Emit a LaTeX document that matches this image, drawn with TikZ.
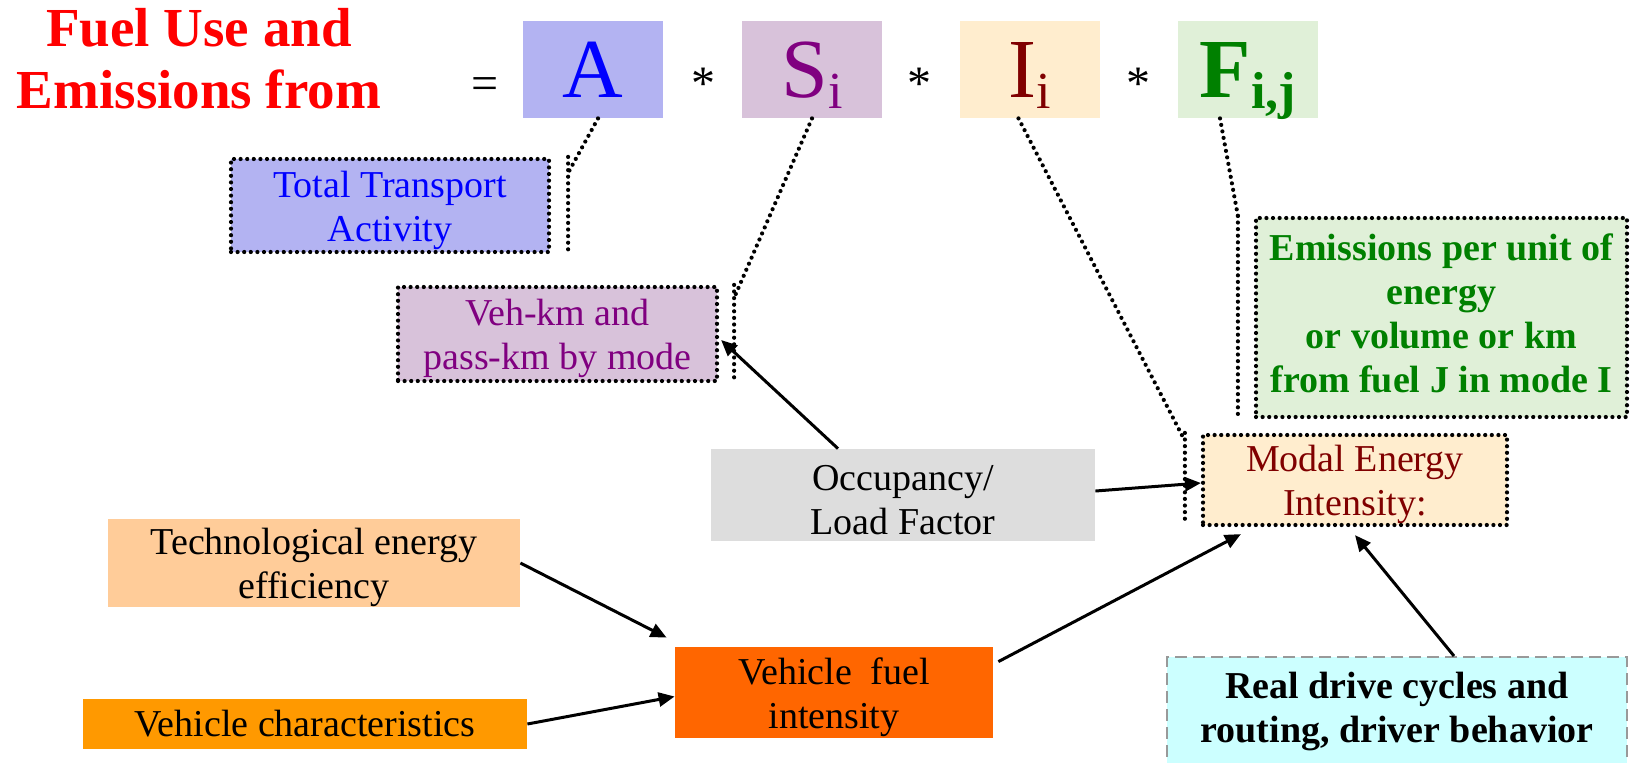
\documentclass[tikz,border=0pt]{standalone}
\usepackage{fontspec}
\setmainfont{Liberation Serif}
\usetikzlibrary{arrows.meta}
\definecolor{Abox}{HTML}{B3B3F2}
\definecolor{Sbox}{HTML}{D8C2DA}
\definecolor{Ibox}{HTML}{FFEDCE}
\definecolor{Fbox}{HTML}{E0F0D8}
\definecolor{Occbox}{HTML}{DDDDDD}
\definecolor{Techbox}{HTML}{FFCC99}
\definecolor{Charbox}{HTML}{FF9900}
\definecolor{Fuelbox}{HTML}{FF6600}
\definecolor{Realbox}{HTML}{CCFFFF}
\definecolor{Stext}{HTML}{800080}
\definecolor{Itext}{HTML}{800000}
\definecolor{Ftext}{HTML}{008000}
\newcommand{\bodyfont}{\fontsize{19pt}{22pt}\selectfont}
\newcommand{\idx}[1]{\raisebox{-5.5pt}{\fontsize{26pt}{26pt}\selectfont #1}}
\newcommand{\tall}{\rule{0pt}{18pt}}
\newcommand{\deep}{\rule[-4pt]{0pt}{4pt}}
\tikzset{
  dotline/.style={line width=2.1pt, dash pattern=on 0pt off 3.3pt, line cap=round},
  box/.style={inner sep=0pt, align=center, font=\bodyfont},
  dotbox/.style={box, draw, dotline},
  letter/.style={minimum width=70pt, minimum height=48.5pt, inner sep=0pt,
    text height=28pt, text depth=0pt, font=\fontsize{42pt}{42pt}\selectfont},
  op/.style={anchor=base, inner sep=0pt, font=\fontsize{24pt}{24pt}\selectfont},
  link/.style={-{Triangle[length=8pt,width=7pt]}, line width=1.5pt}
}
\begin{document}
\begin{tikzpicture}[x=0.5pt, y=-0.5pt]
\useasboundingbox (0,0) rectangle (1632,762);
\node[align=center, inner sep=0pt, text=red, font=\fontsize{27.5pt}{31pt}\selectfont\bfseries] (title) at (199,59) {Fuel Use and\\Emissions from};
\node[op] (eq) at (485,99) {=};
\node[op] (star1) at (703,99) {*};
\node[letter, fill=Abox, text=blue] (A) at (593,69.5) {A};
\node[op] (star2) at (919,99) {*};
\node[letter, fill=Sbox, text=Stext] (S) at (812,69.5) {S\idx{i}};
\node[op] (star3) at (1138,99) {*};
\node[letter, fill=Ibox, text=Itext] (I) at (1029.5,69.5) {I\idx{i}};
\node[letter, fill=Fbox, text=Ftext, font=\fontsize{42pt}{42pt}\selectfont\bfseries] (F) at (1248,69.5) {F\idx{i,j}};

\node[dotbox, fill=Abox, text=blue, minimum width=159pt, minimum height=46.5pt] (activity) at (390,205.5) {\tall Total Transport\\Activity};
\node[dotbox, fill=Sbox, text=Stext, minimum width=159.5pt, minimum height=47pt] (vehkm) at (557.5,334) {\tall Veh-km and\\pass-km by mode};
\node[box, fill=Occbox, minimum width=192pt, minimum height=46pt] (occupancy) at (903,495) {\tall Occupancy/\\Load Factor};
\node[dotbox, fill=Ibox, text=Itext, minimum width=152pt, minimum height=45pt] (modal) at (1355,480) {\tall Modal Energy\\Intensity:};
\node[dotbox, fill=Fbox, text=Ftext, font=\bodyfont\bfseries, minimum width=185.5pt, minimum height=99.5pt] (emission) at (1441.5,317.5) {Emissions per unit of\\energy\\or volume or km\\from fuel J in mode I\deep};
\node[box, fill=Techbox, minimum width=206pt, minimum height=43pt] (tech) at (314,563) {\tall Technological energy\\efficiency};
\node[box, fill=Charbox, minimum width=222pt, minimum height=25pt] (vchar) at (305,724) {Vehicle characteristics};
\node[box, fill=Fuelbox, minimum width=159pt, minimum height=45.5pt] (vfuel) at (834,692.5) {\tall Vehicle\ \ fuel\\intensity};
\node[box, fill=Realbox, draw=gray!80, line width=1pt, dash pattern=on 6pt off 3pt, font=\bodyfont\bfseries, minimum width=230pt, minimum height=54pt] (drive) at (1397,711) {Real drive cycles and\\routing, driver behavior\deep};

\draw[dotline] ([xshift=2.5pt]A.south) -- ([shift={(8.5pt,-8pt)}]activity.north east);
\draw[dotline] ([xshift=8.5pt]activity.north east) -- ([xshift=8.5pt]activity.south east);
\draw[dotline] (S.south) -- ([shift={(7.5pt,-6.5pt)}]vehkm.north east);
\draw[dotline] ([xshift=7.5pt]vehkm.north east) -- ([xshift=7.5pt]vehkm.south east);
\draw[dotline] ([xshift=-5.5pt]I.south) -- ([shift={(-8pt,-4pt)}]modal.north west);
\draw[dotline] ([xshift=-8pt]modal.north west) -- ([shift={(-8pt,3.5pt)}]modal.south west);
\draw[dotline] ([xshift=-14pt]F.south) -- ([xshift=-8pt]emission.north west);
\draw[dotline] ([xshift=-8pt]emission.north west) -- ([xshift=-8pt]emission.south west);

\draw[link] ([xshift=-32.5pt]occupancy.north) -- ([shift={(1pt,-3pt)}]vehkm.east);
\draw[link] ([yshift=2pt]occupancy.east) -- ([yshift=-1.5pt]modal.west);
\draw[link] (tech.east) -- ([shift={(-4pt,4.5pt)}]vfuel.north west);
\draw[link] (vchar.east) -- ([yshift=-2pt]vfuel.west);
\draw[link] ([shift={(2.5pt,-7.5pt)}]vfuel.north east) -- ([shift={(20pt,-3.5pt)}]modal.south west);
\draw[link] ([xshift=28.5pt]drive.north) -- ([yshift=-4pt]modal.south);
\end{tikzpicture}
\end{document}
